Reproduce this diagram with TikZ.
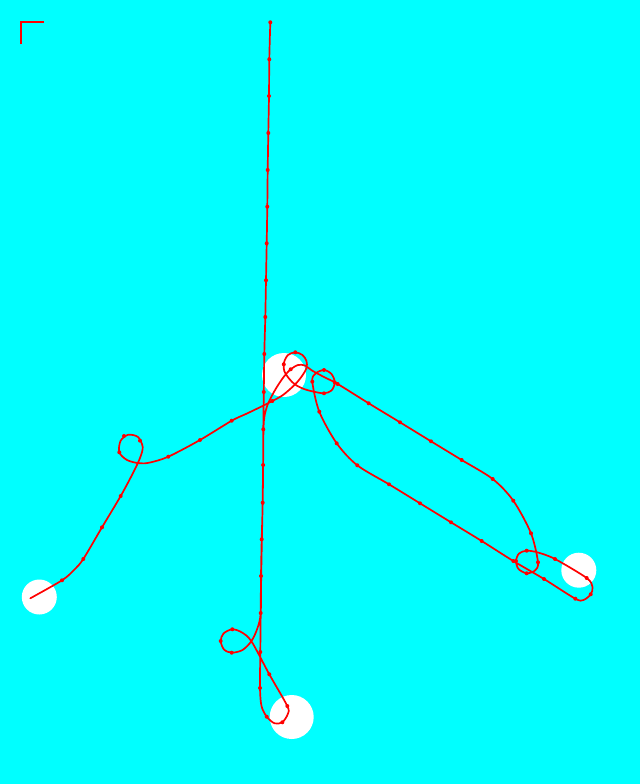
\documentclass[tikz,border=0pt]{standalone}
\definecolor{bgc}{RGB}{0,255,255}
\definecolor{pathred}{RGB}{255,0,0}
\tikzset{
  hubcircle/.style={circle, fill=white, draw=none, inner sep=0pt},
  trail/.style={draw=pathred, line width=1.7pt, line join=round, line cap=round},
  waypoint/.style={fill=pathred}
}
\begin{document}
\begin{tikzpicture}[x=1pt,y=-1pt]
\fill[bgc] (0,0) rectangle (640,784);
\useasboundingbox (0,0) rectangle (640,784);
% white discs
\node[hubcircle, minimum size=44pt] (hub) at (284,375) {};
\node[hubcircle, minimum size=35pt] (leafL) at (39.3,597) {};
\node[hubcircle, minimum size=44pt] (leafB) at (291.7,717) {};
\node[hubcircle, minimum size=35pt] (leafR) at (578.8,570.2) {};
% corner mark
\draw[pathred, line width=1.7pt] (21,44.3) -- (21,22.3) -- (44.3,22.3);
% trajectory
\draw[trail] plot[smooth, tension=0.5] coordinates {
(270.3,22.3) (269.3,59.3) (269,96) (268.3,133) (267.7,170) (267.3,206.7)
(266.7,243.3) (266,280.3) (265.3,317) (264.3,354) (263.8,392) (263.3,429.3)
(263.1,465) (262.7,502.7) (261.7,539.3) (261,576) (260.7,613) (260.3,652)
(260,688) (261.5,706) (266.7,716.7) (274.5,723.3) (282.3,722.3) (287.8,714)
(287.3,706) (269.3,674.3) (251.7,641.7) (242,632.5) (232.3,629.3) (223.5,633.5)
(220.7,641) (224,649.5) (231.7,652.7) (242.5,650) (251.5,641) (257.5,628)
(260.7,613) (261.2,576) (261.9,539) (262.6,503) (263.1,465) (263.5,429)
(264.5,416) (267.5,405) (272,395.5) (277.5,386) (284,376.5) (290.7,369.3)
(298,365) (305,365.5) (312,370.5) (324,377) (337.7,384) (368.7,403.3)
(400,422.3) (431,441.3) (461.7,460) (492.7,479) (513.3,500.7) (531,533.3)
(538,562.3) (535,570.5) (526.7,573.3) (518.5,569) (516,561) (519,553.5)
(526.7,550.7) (538,552.5) (555,559) (586.7,578) (592.5,587) (590.7,594.3)
(583.5,600) (575.3,598.7) (544,579) (513.3,561) (481.7,541) (451,522.3)
(420,503.3) (389,484.3) (357.3,465.3) (336.7,443.3) (319.3,411.7) (312.3,381.7)
(315.5,373.5) (324,370) (331.5,374) (334.8,382.5) (331.5,390.5) (324,393.3)
(313,391.5) (304,389) (295,384.5) (289,378.5) (284.3,371) (284,362.5)
(288,355) (295.3,352.3) (302.5,355) (306.5,361) (306.5,368) (302,376)
(295,384.5) (283,395) (272.3,401) (262.5,406) (247,413.5) (231.7,420.7) (200,440)
(168.3,456.7) (150,462.5) (139.3,463.3) (127,460) (119.3,452.3) (120.5,441)
(128,434.8) (138,437) (142.7,447) (140,458) (133,473) (120.7,496)
(102,527.3) (83.3,559) (74,570) (62,580.3) (30.3,598.3)
};
% waypoints
\foreach \x/\y in {
270.3/22.3, 269.3/59.3, 269/96, 268.3/133, 267.7/170, 267.3/206.7,
266.7/243.3, 266/280.3, 265.3/317, 264.3/354, 263.8/392, 263.3/429.3,
263.1/465, 262.7/502.7, 261.7/539.3, 261/576, 260.7/613, 260.3/652,
260/688, 266.7/716.7, 282.3/722.3, 287.3/706, 269.3/674.3,
232.3/629.3, 220.7/641, 231.7/652.7,
272.3/401, 290.7/369.3,
337.7/384, 368.7/403.3, 400/422.3, 431/441.3, 461.7/460, 492.7/479,
513.3/500.7, 531/533.3, 538/562.3, 526.7/573.3, 516/561, 526.7/550.7,
555/559, 586.7/578, 590.7/594.3, 575.3/598.7, 544/579, 513.3/561,
481.7/541, 451/522.3, 420/503.3, 389/484.3, 357.3/465.3, 336.7/443.3,
319.3/411.7, 312.3/381.7, 324/370, 334.8/382.5, 324/393.3,
295.3/352.3, 283.8/364.3,
231.7/420.7, 200/440, 168.3/456.7, 119.3/452.3, 124/436, 140/440.7,
120.7/496, 102/527.3, 83.3/559, 62/580.3}
  \fill[waypoint] (\x,\y) circle (2pt);
\end{tikzpicture}
\end{document}
